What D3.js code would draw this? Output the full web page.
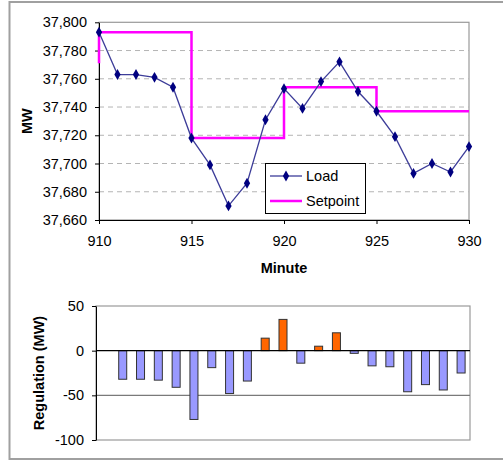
<!DOCTYPE html>
<html>
<head>
<meta charset="utf-8">
<script src="https://cdn.jsdelivr.net/npm/d3@7"></script>
<style>
  body { margin: 0; background: #fff; }
  svg { display: block; font-family: "Liberation Sans", Arial, sans-serif; }
</style>
</head>
<body>
<svg id="chart"></svg>
<script>
// minutes 910..930
const minutes = [910, 911, 912, 913, 914, 915, 916, 917, 918, 919, 920,
  921, 922, 923, 924, 925, 926, 927, 928, 929, 930];
const load = [37793, 37763, 37763, 37761, 37754, 37718, 37699, 37670, 37686, 37731, 37753,
  37739, 37758, 37772, 37751, 37737, 37719, 37693, 37700, 37694, 37712];
const setpointMinutes = [910, 910, 915, 915, 920, 920, 925, 925, 930];
const setpointValues = [37771, 37793, 37793, 37718, 37718, 37754, 37754, 37737, 37737];
const regulation = [null, -32, -32, -33, -41, -77, -19, -48, -34, 14, 35,
  -14, 5, 20, -3, -17, -18, -46, -38, -44, -25];
const loadTicks = [37660, 37680, 37700, 37720, 37740, 37760, 37780, 37800];
const minuteTicks = [910, 915, 920, 925, 930];
const regTicks = [-100, -50, 0, 50];

const W = 503, H = 461;
const FONT = "14.5px";

const svg = d3.select("#chart").attr("width", W).attr("height", H);

// outer frame
svg.append("rect")
  .attr("x", 9.5).attr("y", 2).attr("width", 600).attr("height", 457)
  .attr("fill", "#fff").attr("stroke", "#a0a0a0").attr("stroke-width", 2);

// ---------- top chart ----------
const x = d3.scaleLinear().domain([910, 930]).range([99, 469]);
const y = d3.scaleLinear().domain([37660, 37800]).range([220, 22.3]);

// plot border (top/right)
svg.append("rect")
  .attr("x", x(910)).attr("y", y(37800))
  .attr("width", x(930) - x(910)).attr("height", y(37660) - y(37800))
  .attr("fill", "none").attr("stroke", "#9a9a9a").attr("stroke-width", 1.2);

// dashed gridlines
svg.append("g").selectAll("line")
  .data(loadTicks.filter(d => d > 37660 && d < 37800))
  .enter().append("line")
  .attr("x1", x(910)).attr("x2", x(930))
  .attr("y1", d => y(d)).attr("y2", d => y(d))
  .attr("stroke", "#b4b4b4").attr("stroke-dasharray", "5,4");

const yAxis = svg.append("g")
  .attr("transform", `translate(${x(910)},0)`)
  .call(d3.axisLeft(y).tickValues(loadTicks).tickFormat(d3.format(",")).tickSize(4).tickSizeOuter(0).tickPadding(8));

const xAxis = svg.append("g")
  .attr("transform", `translate(0,${y(37660)})`)
  .call(d3.axisBottom(x).tickValues(minuteTicks).tickFormat(d3.format("d")).tickSize(4).tickSizeOuter(0).tickPadding(12));

[yAxis, xAxis].forEach(a => {
  a.selectAll("text").style("font-size", FONT).attr("fill", "#000");
  a.selectAll("line, path").attr("stroke", "#000");
});

// axis titles
svg.append("text")
  .attr("x", x(920)).attr("y", 272.5)
  .attr("text-anchor", "middle").style("font-size", FONT).style("font-weight", "bold")
  .text("Minute");

svg.append("text")
  .attr("transform", `translate(32,${(y(37660) + y(37800)) / 2}) rotate(-90)`)
  .attr("text-anchor", "middle").style("font-size", FONT).style("font-weight", "bold")
  .text("MW");

// setpoint step line
const spData = setpointMinutes.map((m, i) => [m, setpointValues[i]]);
svg.append("path")
  .datum(spData)
  .attr("d", d3.line().x(d => x(d[0])).y(d => y(d[1])))
  .attr("fill", "none").attr("stroke", "#ff00ff").attr("stroke-width", 2.5);

// load line
const loadData = minutes.map((m, i) => [m, load[i]]);
svg.append("path")
  .datum(loadData)
  .attr("d", d3.line().x(d => x(d[0])).y(d => y(d[1])))
  .attr("fill", "none").attr("stroke", "#3d3d99").attr("stroke-width", 1.3);

const diamond = d3.symbol().type(d3.symbolDiamond).size(34);
svg.append("g").selectAll("path")
  .data(loadData)
  .enter().append("path")
  .attr("d", diamond)
  .attr("transform", d => `translate(${x(d[0])},${y(d[1])})`)
  .attr("fill", "#000080");

// legend
const lg = svg.append("g");
lg.append("rect")
  .attr("x", 265.5).attr("y", 163.5).attr("width", 100).attr("height", 50)
  .attr("fill", "#fff").attr("stroke", "#000").attr("stroke-width", 1);
lg.append("line").attr("x1", 270).attr("x2", 302).attr("y1", 176).attr("y2", 176)
  .attr("stroke", "#3d3d99").attr("stroke-width", 1.3);
lg.append("path").attr("d", diamond).attr("transform", "translate(286,176)").attr("fill", "#000080");
lg.append("text").attr("x", 306).attr("y", 176).attr("dy", "0.35em").style("font-size", FONT).text("Load");
lg.append("line").attr("x1", 270).attr("x2", 302).attr("y1", 201).attr("y2", 201)
  .attr("stroke", "#ff00ff").attr("stroke-width", 2.5);
lg.append("text").attr("x", 306).attr("y", 201).attr("dy", "0.35em").style("font-size", FONT).text("Setpoint");

// ---------- bottom chart ----------
const xb = d3.scaleBand().domain(minutes).range([96, 470]).padding(0);
const yb = d3.scaleLinear().domain([-100, 50]).range([440, 306]);

svg.append("rect")
  .attr("x", 96).attr("y", yb(50))
  .attr("width", 470 - 96).attr("height", yb(-100) - yb(50))
  .attr("fill", "none").attr("stroke", "#9a9a9a").attr("stroke-width", 1.2);

svg.append("line")
  .attr("x1", 96).attr("x2", 470).attr("y1", yb(-50)).attr("y2", yb(-50))
  .attr("stroke", "#7a7a7a").attr("stroke-width", 1.2);

const bw = xb.bandwidth() * 0.45;
svg.append("g").selectAll("rect")
  .data(minutes.map((m, i) => ({ m, v: regulation[i] })).filter(d => d.v !== null))
  .enter().append("rect")
  .attr("x", d => xb(d.m) + (xb.bandwidth() - bw) / 2)
  .attr("y", d => yb(Math.max(0, d.v)))
  .attr("width", bw)
  .attr("height", d => Math.abs(yb(d.v) - yb(0)))
  .attr("fill", d => d.v > 0 ? "#ff6600" : "#9999ff")
  .attr("stroke", "#333")
  .attr("stroke-width", 1);

// zero line
svg.append("line")
  .attr("x1", 96).attr("x2", 470).attr("y1", yb(0)).attr("y2", yb(0))
  .attr("stroke", "#000").attr("stroke-width", 1.2);

const ybAxis = svg.append("g")
  .attr("transform", "translate(96,0)")
  .call(d3.axisLeft(yb).tickValues(regTicks).tickFormat(d => String(d)).tickSize(4).tickSizeOuter(0).tickPadding(8));
ybAxis.selectAll("text").style("font-size", FONT).attr("fill", "#000");
ybAxis.selectAll("line, path").attr("stroke", "#000");

svg.append("text")
  .attr("transform", `translate(44,${(yb(-100) + yb(50)) / 2}) rotate(-90)`)
  .attr("text-anchor", "middle").style("font-size", FONT).style("font-weight", "bold")
  .text("Regulation (MW)");
</script>
</body>
</html>
